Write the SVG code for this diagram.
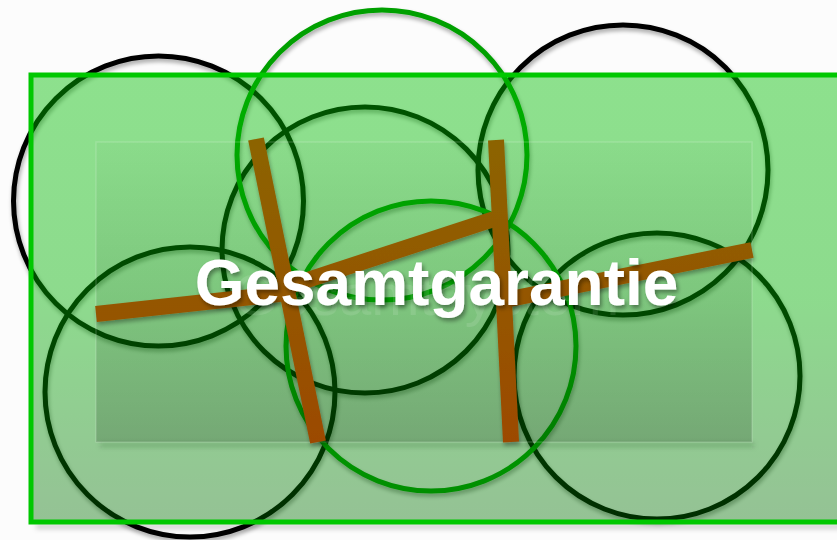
<svg xmlns="http://www.w3.org/2000/svg" width="837" height="540" viewBox="0 0 837 540">
<defs>
<filter id="sh" x="-20%" y="-20%" width="140%" height="140%">
<feGaussianBlur in="SourceAlpha" stdDeviation="2.2"/>
<feOffset dx="1" dy="3" result="b"/>
<feComponentTransfer><feFuncA type="linear" slope="0.35"/></feComponentTransfer>
<feMerge><feMergeNode/><feMergeNode in="SourceGraphic"/></feMerge>
</filter>
<filter id="blur" x="-10%" y="-200%" width="120%" height="500%">
<feGaussianBlur stdDeviation="2.5"/>
</filter>
<filter id="tsh" x="-10%" y="-20%" width="120%" height="150%">
<feGaussianBlur in="SourceAlpha" stdDeviation="2"/>
<feOffset dx="2" dy="3"/>
<feComponentTransfer><feFuncA type="linear" slope="0.4"/></feComponentTransfer>
<feMerge><feMergeNode/><feMergeNode in="SourceGraphic"/></feMerge>
</filter>
<linearGradient id="gOuter" x1="0" y1="75" x2="0" y2="522" gradientUnits="userSpaceOnUse">
<stop offset="0" stop-color="#00be00" stop-opacity="0.44"/>
<stop offset="0.5" stop-color="#00b000" stop-opacity="0.44"/>
<stop offset="1" stop-color="#006e00" stop-opacity="0.41"/>
</linearGradient>
<linearGradient id="gInner" x1="0" y1="142" x2="0" y2="442" gradientUnits="userSpaceOnUse">
<stop offset="0" stop-color="#003000" stop-opacity="0.02"/>
<stop offset="1" stop-color="#002000" stop-opacity="0.2"/>
</linearGradient>
<linearGradient id="gBar" x1="0" y1="140" x2="0" y2="442" gradientUnits="userSpaceOnUse">
<stop offset="0" stop-color="#8c6400"/>
<stop offset="1" stop-color="#9c4a00"/>
</linearGradient>
</defs>
<style>
.c{fill:none;stroke-width:5}
.k{stroke:#000}
.g{stroke:#00a000}
.bar{fill:none;stroke:url(#gBar);stroke-width:16;stroke-linecap:butt}
.t{font-family:"Liberation Sans",Arial,sans-serif;text-anchor:middle}
</style>
<rect width="837" height="540" fill="#fcfcfc"/>
<g id="circles" filter="url(#sh)">
<circle id="c1" class="c k" cx="158.5" cy="201" r="145"/>
<circle id="c2" class="c k" cx="365" cy="250" r="143"/>
<circle id="c3" class="c k" cx="190" cy="392" r="145"/>
<circle id="c4" class="c k" cx="623" cy="170" r="145"/>
<circle id="c5" class="c k" cx="657" cy="376" r="143"/>
<circle id="c6" class="c g" cx="382" cy="155" r="145"/>
<circle id="c7" class="c g" cx="431" cy="346" r="145"/>
</g>
<g id="outer">
<rect x="36" y="524" width="820" height="5" fill="#000" fill-opacity="0.18" filter="url(#blur)"/>
<rect x="31" y="75" width="830" height="447" fill="url(#gOuter)" stroke="#00c800" stroke-width="5"/>
</g>
<g id="inner">
<rect x="100" y="443" width="654" height="4" fill="#003000" fill-opacity="0.22" filter="url(#blur)"/>
<rect x="96" y="142" width="656" height="300" fill="url(#gInner)" stroke="#ffffff" stroke-opacity="0.16" stroke-width="1.5"/>
</g>
<text class="t" x="426" y="315" font-size="58" fill="#ffffff" fill-opacity="0.11">Gesamtsystem</text>
<g id="connectors" filter="url(#sh)">
<line class="bar" x1="256" y1="139" x2="318" y2="442"/>
<line class="bar" x1="496" y1="140" x2="511" y2="442"/>
<line class="bar" x1="96" y1="314" x2="288" y2="293"/>
<line class="bar" x1="286" y1="287" x2="494" y2="219"/>
<line class="bar" x1="505" y1="300" x2="752" y2="250"/>
</g>
<g id="label" filter="url(#tsh)">
<text class="t" x="436.5" y="305" font-size="64" font-weight="bold" fill="#ffffff">Gesamtgarantie</text>
</g>
</svg>
